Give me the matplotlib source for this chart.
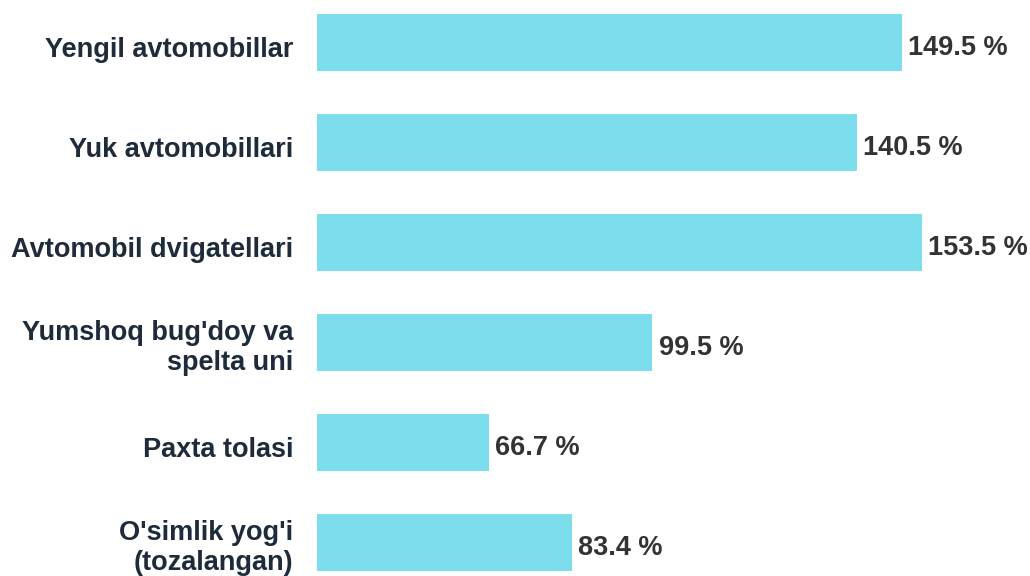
import matplotlib.pyplot as plt
from matplotlib.transforms import ScaledTranslation

categories = ["Yengil avtomobillar", "Yuk avtomobillari", "Avtomobil dvigatellari",
              "Yumshoq bug'doy va\nspelta uni", "Paxta tolasi", "O'simlik yog'i\n(tozalangan)"]
values = [149.5, 140.5, 153.5, 99.5, 66.7, 83.4]
value_labels = ["149.5 %", "140.5 %", "153.5 %", "99.5 %", "66.7 %", "83.4 %"]

bar_color = '#7CDEEC'
label_color = '#1E2B3A'
value_color = '#333333'

plt.rcParams['font.family'] = ['Liberation Sans', 'DejaVu Sans']

fig = plt.figure(figsize=(10.3, 5.76), dpi=100)
ax = fig.add_axes([317 / 1030, 0, 1 - 317 / 1030, 1])

y = list(range(len(categories)))
ax.barh(y, values, height=0.57, color=bar_color, left=0)
ax.set_xlim(32.3, 175.2)
ax.set_ylim(5.335, -0.425)

ax.set_yticks(y)
ax.set_yticklabels(categories, fontsize=19.5, fontweight='bold', color=label_color,
                   linespacing=1.2)
ax.tick_params(axis='y', length=0, pad=17)
ax.set_xticks([])
for s in ax.spines.values():
    s.set_visible(False)

# nudge single-line category labels down a little, like the original
shift = ScaledTranslation(0, -3 / 72, fig.dpi_scale_trans)
for lbl in ax.get_yticklabels():
    if '\n' not in lbl.get_text():
        lbl.set_transform(lbl.get_transform() + shift)

for yi, v, lab in zip(y, values, value_labels):
    ax.annotate(lab, (v, yi), xytext=(4.5, -4), textcoords='offset points',
                va='center', ha='left', fontsize=19.5, fontweight='bold',
                color=value_color, annotation_clip=False)

fig.savefig('out.png', dpi=100)
